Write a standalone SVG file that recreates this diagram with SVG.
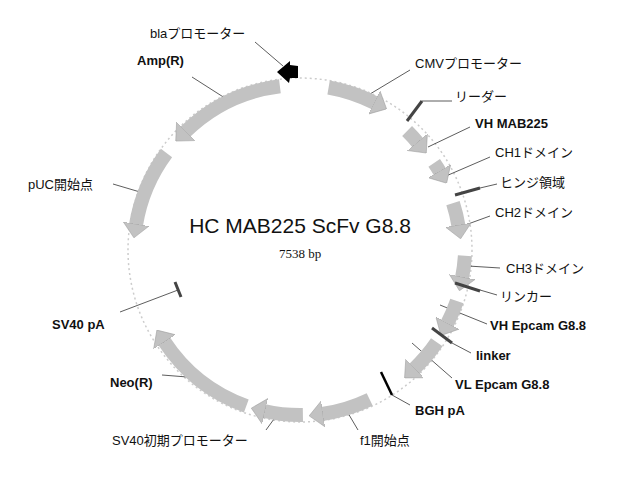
<svg xmlns="http://www.w3.org/2000/svg" width="640" height="482" viewBox="0 0 640 482">
<style>
.t{font-family:"Liberation Sans","Noto Sans CJK JP",sans-serif;font-size:13px;fill:#111}
.b{font-weight:bold}
.a{fill:none;stroke:#c2c2c2;stroke-width:14;marker-end:url(#h)}
.l{stroke:#333;stroke-width:0.8;fill:none}
.k{stroke:#444;stroke-width:3}
</style>
<defs>
<marker id="h" markerUnits="userSpaceOnUse" markerWidth="14" markerHeight="26" viewBox="0 0 14 26" refX="1" refY="13" orient="auto"><path d="M0,0 L14,13 L0,26 z" fill="#c2c2c2" stroke="#999" stroke-width="0.5"/></marker>
</defs>
<rect width="640" height="482" fill="#fff"/>
<circle cx="300" cy="250" r="172" fill="none" stroke="#ccc" stroke-width="1.5" stroke-dasharray="2 3"/>
<g id="connectors">
<line class="l" x1="255" y1="42" x2="283" y2="66"/>
<line class="l" x1="192" y1="77" x2="228" y2="100"/>
<line class="l" x1="113" y1="184" x2="140" y2="192"/>
<line class="l" x1="410" y1="70" x2="360" y2="100"/>
<line class="l" x1="452" y1="101" x2="422" y2="101"/>
<line class="l" x1="470" y1="127" x2="428" y2="147"/>
<line class="l" x1="490" y1="157" x2="446" y2="176"/>
<line class="l" x1="497" y1="184" x2="480" y2="188"/>
<line class="l" x1="490" y1="216" x2="457" y2="228"/>
<line class="l" x1="500" y1="268" x2="468" y2="266"/>
<line class="l" x1="497" y1="295" x2="480" y2="290"/>
<line class="l" x1="487" y1="324" x2="440" y2="305"/>
<line class="l" x1="471" y1="353" x2="452" y2="343"/>
<line class="l" x1="452" y1="378" x2="412" y2="343"/>
<line class="l" x1="410" y1="405" x2="392" y2="395"/>
<line class="l" x1="358" y1="430" x2="345" y2="408"/>
<line class="l" x1="266" y1="430" x2="282" y2="408"/>
<line class="l" x1="162" y1="375" x2="200" y2="378"/>
<line class="l" x1="120" y1="312" x2="178" y2="290"/>
</g>
<g id="bla"><polygon points="298,66 290,65 290,61 277,72 289,83 290,78 298,78" fill="#000"/><text class="t" x="150" y="38">blaプロモーター</text></g>
<g id="amp"><path class="a" d="M279.9,86.2 A165,165 0 0 0 185,132"/><text class="t b" x="137" y="65">Amp(R)</text></g>
<g id="puc"><path class="a" d="M166.5,153 A165,165 0 0 0 136,225"/><text class="t" x="28" y="189">pUC開始点</text></g>
<g id="cmv"><path class="a" d="M328.6,87.5 A165,165 0 0 1 375,103"/><text class="t" x="415" y="68">CMVプロモーター</text></g>
<g id="leader"><line class="k" x1="407" y1="121" x2="422" y2="101"/><text class="t" x="455" y="101">リーダー</text></g>
<g id="vhmab"><path class="a" d="M407.1,131.1 A160,160 0 0 1 418,143"/><text class="t b" x="475" y="128">VH MAB225</text></g>
<g id="ch1"><path class="a" d="M434.2,162.9 A160,160 0 0 1 440,172"/><text class="t" x="495" y="157">CH1ドメイン</text></g>
<g id="hinge"><line class="k" x1="455" y1="195" x2="480" y2="188"/><text class="t" x="500" y="187">ヒンジ領域</text></g>
<g id="ch2"><path class="a" d="M453,203.2 A160,160 0 0 1 458.5,226"/><text class="t" x="495" y="217">CH2ドメイン</text></g>
<g id="ch3"><path class="a" d="M464.9,255.8 A165,165 0 0 1 462,278"/><text class="t" x="506" y="273">CH3ドメイン</text></g>
<g id="linker1"><line class="k" x1="455" y1="283" x2="480" y2="291"/><text class="t" x="500" y="301">リンカー</text></g>
<g id="vhep"><path class="a" d="M456.9,301 A165,165 0 0 1 447,324"/><text class="t b" x="490" y="330">VH Epcam G8.8</text></g>
<g id="linker2"><line class="k" x1="432" y1="328" x2="452" y2="343"/><text class="t b" x="476" y="360">linker</text></g>
<g id="vlep"><path class="a" d="M436.8,342.3 A165,165 0 0 1 414,369"/><text class="t b" x="455" y="389">VL Epcam G8.8</text></g>
<g id="bgh"><line x1="381" y1="372" x2="392" y2="395" stroke="#000" stroke-width="2.5"/><text class="t b" x="415" y="415">BGH pA</text></g>
<g id="f1"><path class="a" d="M369.7,399.5 A165,165 0 0 1 322,414"/><text class="t" x="360" y="445">f1開始点</text></g>
<g id="sv40p"><path class="a" d="M302.9,415 A165,165 0 0 1 264,411"/><text class="t" x="112" y="445">SV40初期プロモーター</text></g>
<g id="neo"><path class="a" d="M246.3,406 A165,165 0 0 1 164,341"/><text class="t b" x="110" y="387">Neo(R)</text></g>
<g id="sv40pa"><line class="k" x1="175" y1="282" x2="181" y2="297"/><text class="t b" x="52" y="329">SV40 pA</text></g>
<g id="title"><text x="300" y="233" text-anchor="middle" style="font-family:'Liberation Sans',sans-serif;font-size:21px" fill="#111">HC MAB225 ScFv G8.8</text><text x="300" y="258" text-anchor="middle" style="font-family:'Liberation Serif',serif;font-size:13px" fill="#111">7538 bp</text></g>
</svg>
